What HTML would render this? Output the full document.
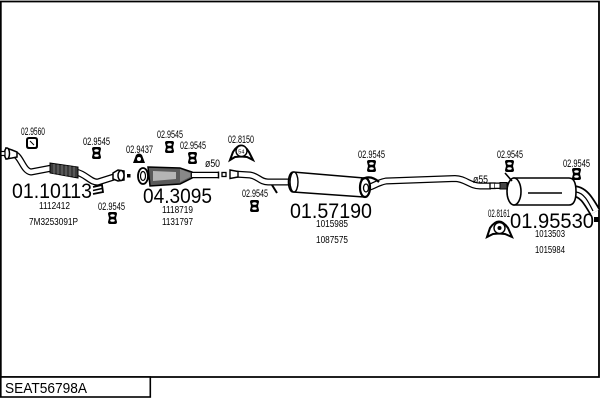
<!DOCTYPE html>
<html><head><meta charset="utf-8"><style>
html,body{margin:0;padding:0;background:#fff;}
svg{display:block;}
text{font-family:"Liberation Sans",Arial,sans-serif;fill:#000;}
.s{font-size:11px;}
.n{font-size:10px;}
.b{font-size:21px;}
</style></head><body>
<svg width="600" height="400" viewBox="0 0 600 400" xmlns="http://www.w3.org/2000/svg">
<rect x="0" y="0" width="600" height="400" fill="#fff"/>
<!-- frame -->
<path d="M0.8,377 L0.8,1.5 L599,1.5 L599,377 Z" fill="none" stroke="#000" stroke-width="1.8"/>
<rect x="0.8" y="377" width="149.5" height="20" fill="#fff" stroke="#000" stroke-width="1.6"/>
<text x="5" y="393" font-size="15" textLength="82" lengthAdjust="spacingAndGlyphs">SEAT56798A</text>

<!-- PIPE 1 -->
<g fill="none" stroke-linecap="butt" stroke-linejoin="round">
<path d="M14,154 C21,156 23,171 31,172 L52,168" stroke="#000" stroke-width="7"/>
<path d="M14,154 C21,156 23,171 31,172 L52,168" stroke="#fff" stroke-width="4.5"/>
<path d="M76,172 C86,174 91,183 98,182 L117,176" stroke="#000" stroke-width="7"/>
<path d="M76,172 C86,174 91,183 98,182 L117,176" stroke="#fff" stroke-width="4.5"/>
</g>
<polygon points="50,163 78,167 78,178 50,173" fill="#3a3a3a" stroke="#000" stroke-width="1"/>
<g stroke="#888" stroke-width="0.8">
<line x1="54" y1="164" x2="54" y2="174"/><line x1="58" y1="164.5" x2="58" y2="174.5"/><line x1="62" y1="165" x2="62" y2="175"/><line x1="66" y1="165.5" x2="66" y2="176"/><line x1="70" y1="166" x2="70" y2="176.5"/><line x1="74" y1="166.5" x2="74" y2="177"/>
</g>
<!-- left flange -->
<path d="M6,148 L12,150 L17,152 L17,157 L12,158 L6,159 Z" fill="#fff" stroke="#000" stroke-width="1.5"/>
<ellipse cx="7" cy="153.5" rx="2.5" ry="5.5" fill="#fff" stroke="#000" stroke-width="1.5"/>
<rect x="1" y="151.5" width="4" height="4" fill="#fff" stroke="#000" stroke-width="1.2"/>
<!-- right flange pipe1 -->
<path d="M113,173 L118,170 L124,171 L124,180 L118,181 L113,179 Z" fill="#fff" stroke="#000" stroke-width="1.5"/>
<ellipse cx="121" cy="175.5" rx="3" ry="5" fill="#fff" stroke="#000" stroke-width="1.5"/>
<rect x="127" y="174" width="3.5" height="3.5" fill="#000"/>
<!-- bracket -->
<path d="M93,187 L102,185 L103,192 L93,194" fill="none" stroke="#000" stroke-width="1.8"/>
<line x1="93" y1="190.5" x2="102" y2="188.5" stroke="#000" stroke-width="1.5"/>

<!-- CAT -->
<path d="M148,167 L180,168 L192,172 L192,178 L180,184 L150,186 Z" fill="#5a5a5a" stroke="#000" stroke-width="1.5"/>
<path d="M153,171 L176,172 L176,179 L153,181 Z" fill="#b5b5b5" stroke="none"/>
<path d="M180,169 L190,173 L190,177 L180,182 Z" fill="#888" stroke="none"/>
<ellipse cx="143" cy="176" rx="5" ry="8" fill="#fff" stroke="#000" stroke-width="1.8"/>
<ellipse cx="143" cy="176" rx="2.5" ry="4.5" fill="#fff" stroke="#000" stroke-width="1.2"/>
<path d="M192,175 L218,175" stroke="#000" stroke-width="6.5" fill="none"/>
<path d="M192,175 L218,175" stroke="#fff" stroke-width="4" fill="none"/>
<line x1="218.5" y1="171.5" x2="218.5" y2="178.5" stroke="#000" stroke-width="1.5"/>
<rect x="222" y="172.5" width="4" height="4" fill="#fff" stroke="#000" stroke-width="1.3"/>

<!-- PIPE 3 -->
<g fill="none">
<path d="M234,174 L250,175 C258,176 260,182 268,182 L291,182" stroke="#000" stroke-width="7"/>
<path d="M234,174 L250,175 C258,176 260,182 268,182 L291,182" stroke="#fff" stroke-width="4.5"/>
</g>
<path d="M230,170 L238,171.5 L238,177 L230,178.5 Z" fill="#fff" stroke="#000" stroke-width="1.4"/>
<line x1="272" y1="185" x2="277" y2="193" stroke="#000" stroke-width="2"/>

<!-- MUFFLER 1 -->
<path d="M293,172 L364,178 A5,9.5 0 0 1 364,197 L293,192 A4.5,10 0 0 1 293,172 Z" fill="#fff" stroke="#000" stroke-width="1.6"/>
<ellipse cx="294" cy="182" rx="4" ry="10" fill="#fff" stroke="#000" stroke-width="1.4"/>
<!-- outlet pipe -->
<g fill="none">
<path d="M366,188 C373,187 376,183 386,181 L455,178.5 C465,178.5 470,186 480,186 L491,186" stroke="#000" stroke-width="7"/>
<path d="M366,188 C373,187 376,183 386,181 L455,178.5 C465,178.5 470,186 480,186 L491,186" stroke="#fff" stroke-width="4.5"/>
</g>
<ellipse cx="365" cy="187.5" rx="5" ry="9.5" fill="#fff" stroke="#000" stroke-width="2.2"/>
<ellipse cx="366" cy="188" rx="2.5" ry="4" fill="#fff" stroke="#000" stroke-width="1.3"/>
<path d="M361,180 Q370,174 379,182" fill="none" stroke="#000" stroke-width="2.2"/>

<!-- rear inlet -->
<rect x="490" y="183" width="5" height="5.5" fill="#fff" stroke="#000" stroke-width="1.3"/>
<path d="M495,185.8 L513,185.8" stroke="#000" stroke-width="6.5"/>
<path d="M495,185.8 L513,185.8" stroke="#fff" stroke-width="4"/>
<rect x="500" y="182.5" width="7" height="6.5" fill="#444" stroke="#000" stroke-width="1"/>

<!-- tail pipe -->
<g fill="none">
<path d="M572,191 C583,191 588,200 595,212" stroke="#000" stroke-width="12"/>
<path d="M572,191 C583,191 588,200 595,212" stroke="#fff" stroke-width="8.5"/>
<path d="M576,192 C584,193 588,201 593,211" stroke="#000" stroke-width="1.2"/>
</g>
<!-- REAR MUFFLER -->
<path d="M514,178 L569,178 Q576,178 576,191.5 Q576,205 569,205 L514,205 Z" fill="#fff" stroke="#000" stroke-width="1.6"/>
<ellipse cx="514" cy="191.5" rx="7" ry="13.5" fill="#fff" stroke="#000" stroke-width="1.6"/>
<line x1="528" y1="193" x2="562" y2="193" stroke="#000" stroke-width="1.5"/>
<line x1="505" y1="173" x2="512" y2="181" stroke="#000" stroke-width="1.6"/>
<rect x="594" y="217" width="5" height="5" fill="#000"/>

<!-- hangers 02.9545 -->
<g fill="#000">
<path id="h" d="M0,2 Q0,0 2,0 L7,0 Q9,0 9,2 L8,6 L9,10 Q9,12 7,12 L2,12 Q0,12 0,10 L1,6 Z" transform="translate(92,147)"/>
<use href="#h" transform="translate(16,65)"/>
<use href="#h" transform="translate(73,-6)"/>
<use href="#h" transform="translate(96,5)"/>
<use href="#h" transform="translate(158,53)"/>
<use href="#h" transform="translate(275,13)"/>
<use href="#h" transform="translate(413,13)"/>
<use href="#h" transform="translate(480,21)"/>
</g>
<g fill="#fff">
<ellipse cx="96.5" cy="150.5" rx="2.3" ry="1.3"/><ellipse cx="96.5" cy="155.5" rx="2.3" ry="1.3"/>
<ellipse cx="112.5" cy="215.5" rx="2.3" ry="1.3"/><ellipse cx="112.5" cy="220.5" rx="2.3" ry="1.3"/>
<ellipse cx="169.5" cy="144.5" rx="2.3" ry="1.3"/><ellipse cx="169.5" cy="149.5" rx="2.3" ry="1.3"/>
<ellipse cx="192.5" cy="155.5" rx="2.3" ry="1.3"/><ellipse cx="192.5" cy="160.5" rx="2.3" ry="1.3"/>
<ellipse cx="254.5" cy="203.5" rx="2.3" ry="1.3"/><ellipse cx="254.5" cy="208.5" rx="2.3" ry="1.3"/>
<ellipse cx="371.5" cy="163.5" rx="2.3" ry="1.3"/><ellipse cx="371.5" cy="168.5" rx="2.3" ry="1.3"/>
<ellipse cx="509.5" cy="163.5" rx="2.3" ry="1.3"/><ellipse cx="509.5" cy="168.5" rx="2.3" ry="1.3"/>
<ellipse cx="576.5" cy="171.5" rx="2.3" ry="1.3"/><ellipse cx="576.5" cy="176.5" rx="2.3" ry="1.3"/>
</g>

<!-- 02.9560 clamp -->
<path d="M27,140 Q27,138 29,138 L35,138 Q37,138 37,140 L37,146 Q37,148 35,148 L29,148 Q27,148 27,146 Z" fill="#fff" stroke="#000" stroke-width="2"/>
<line x1="30" y1="141" x2="34" y2="145" stroke="#000" stroke-width="1"/>
<!-- 02.9437 -->
<path d="M133,163 L136,155 Q139,152 142,155 L145,163 Z" fill="#000"/>
<circle cx="139" cy="159" r="2" fill="#fff"/>
<!-- 02.8150 -->
<path d="M230,160 L233,152 Q241,139 249,152 L253,160 L247,157 L241,156.5 L235,157 Z" fill="#fff" stroke="#000" stroke-width="2"/>
<circle cx="241.5" cy="151" r="5.5" fill="#fff" stroke="#000" stroke-width="1.4"/>
<text x="238.3" y="153.3" font-size="5.5">54</text>
<!-- 02.8161 -->
<path d="M487,237 L490,228 Q499,215 508,228 L512,237 L505,234 L499,233.5 L493,234 Z" fill="#fff" stroke="#000" stroke-width="2"/>
<circle cx="499.5" cy="228" r="5.5" fill="#fff" stroke="#000" stroke-width="1.4"/>
<circle cx="499.5" cy="228" r="2" fill="#000"/>

<!-- small labels -->
<g class="s">
<text x="21" y="135" textLength="24" lengthAdjust="spacingAndGlyphs">02.9560</text>
<text x="83" y="145" textLength="27" lengthAdjust="spacingAndGlyphs">02.9545</text>
<text x="98" y="210" textLength="27" lengthAdjust="spacingAndGlyphs">02.9545</text>
<text x="126" y="153" textLength="27" lengthAdjust="spacingAndGlyphs">02.9437</text>
<text x="157" y="138" textLength="26" lengthAdjust="spacingAndGlyphs">02.9545</text>
<text x="180" y="149" textLength="26" lengthAdjust="spacingAndGlyphs">02.9545</text>
<text x="228" y="143" textLength="26" lengthAdjust="spacingAndGlyphs">02.8150</text>
<text x="242" y="197" textLength="26" lengthAdjust="spacingAndGlyphs">02.9545</text>
<text x="358" y="158" textLength="27" lengthAdjust="spacingAndGlyphs">02.9545</text>
<text x="497" y="158" textLength="26" lengthAdjust="spacingAndGlyphs">02.9545</text>
<text x="563" y="167" textLength="27" lengthAdjust="spacingAndGlyphs">02.9545</text>
<text x="488" y="217" textLength="22" lengthAdjust="spacingAndGlyphs">02.8161</text>
<text x="205" y="167" textLength="15" lengthAdjust="spacingAndGlyphs">ø50</text>
<text x="473" y="183" textLength="15" lengthAdjust="spacingAndGlyphs">ø55</text>
</g>
<!-- big labels -->
<g class="b">
<text x="12" y="198" textLength="80" lengthAdjust="spacingAndGlyphs">01.10113</text>
<text x="143" y="203" textLength="69" lengthAdjust="spacingAndGlyphs">04.3095</text>
<text x="290" y="218" textLength="82" lengthAdjust="spacingAndGlyphs">01.57190</text>
<text x="510" y="228" textLength="84" lengthAdjust="spacingAndGlyphs">01.95530</text>
</g>
<!-- numbers -->
<g class="n">
<text x="39" y="209" textLength="31" lengthAdjust="spacingAndGlyphs">1112412</text>
<text x="29" y="225" textLength="49" lengthAdjust="spacingAndGlyphs">7M3253091P</text>
<text x="162" y="213" textLength="31" lengthAdjust="spacingAndGlyphs">1118719</text>
<text x="162" y="225" textLength="31" lengthAdjust="spacingAndGlyphs">1131797</text>
<text x="316" y="227" textLength="32" lengthAdjust="spacingAndGlyphs">1015985</text>
<text x="316" y="243" textLength="32" lengthAdjust="spacingAndGlyphs">1087575</text>
<text x="535" y="237" textLength="30" lengthAdjust="spacingAndGlyphs">1013503</text>
<text x="535" y="253" textLength="30" lengthAdjust="spacingAndGlyphs">1015984</text>
</g>
</svg>
</body></html>
